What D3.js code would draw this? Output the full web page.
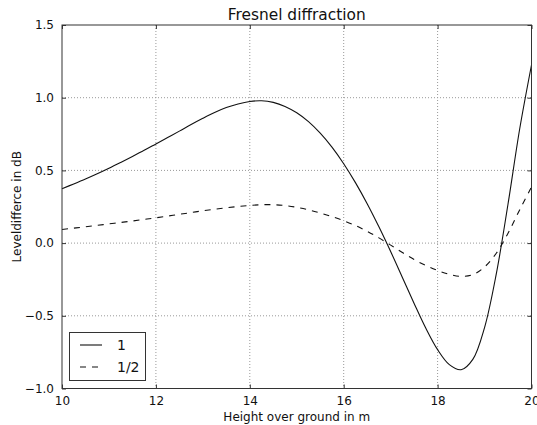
<!DOCTYPE html>
<html>
<head>
<meta charset="utf-8">
<script src="https://d3js.org/d3.v7.min.js"></script>
<style>
  html, body { margin: 0; padding: 0; background: #fff; }
  svg { display: block; font-family: "DejaVu Sans", sans-serif; }
</style>
</head>
<body>
<svg id="chart" width="537" height="425"></svg>
<script>
// Height over ground (m)
const heights = [10, 10.25, 10.5, 10.75, 11, 11.25, 11.5, 11.75, 12, 12.25, 12.5, 12.75,
  13, 13.25, 13.5, 13.75, 14, 14.25, 14.5, 14.75, 15, 15.25, 15.5, 15.75, 16, 16.25,
  16.5, 16.75, 17, 17.25, 17.5, 17.75, 18, 18.25, 18.5, 18.75, 19, 19.25, 19.5, 19.75, 20];

// Level difference (dB), full strength
const levelFull = [0.374, 0.407, 0.441, 0.477, 0.515, 0.555, 0.596, 0.638, 0.682, 0.726, 0.770, 0.815,
  0.858, 0.898, 0.932, 0.957, 0.974, 0.979, 0.968, 0.940, 0.896, 0.835, 0.756, 0.660, 0.546, 0.416,
  0.271, 0.112, -0.058, -0.236, -0.415, -0.586, -0.733, -0.836, -0.871, -0.800, -0.581, -0.212, 0.269, 0.788, 1.225];

// Level difference (dB), half strength
const levelHalf = [0.094, 0.103, 0.112, 0.122, 0.132, 0.142, 0.152, 0.163, 0.174, 0.186, 0.198, 0.210,
  0.222, 0.233, 0.243, 0.252, 0.259, 0.264, 0.264, 0.258, 0.246, 0.229, 0.207, 0.182, 0.154, 0.121,
  0.081, 0.036, -0.014, -0.065, -0.113, -0.154, -0.188, -0.215, -0.229, -0.217, -0.164, -0.070, 0.068, 0.230, 0.386];

const seriesNames = ["1", "1/2"];
const xTicks = [10, 12, 14, 16, 18, 20];
const yTicks = [-1.0, -0.5, 0.0, 0.5, 1.0, 1.5];

const svg = d3.select("#chart");
const margin = { left: 62, right: 5.5, top: 25, bottom: 36.5 };
const W = 537, H = 425;
const x = d3.scaleLinear().domain([10, 20]).range([margin.left, W - margin.right]);
const y = d3.scaleLinear().domain([-1.0, 1.5]).range([H - margin.bottom, margin.top]);

const fmtY = v => d3.format(".1f")(v).replace("-", "\u2212");

// grid
const grid = svg.append("g");
grid.selectAll("line.gx").data(xTicks.slice(1, -1)).join("line")
  .attr("x1", d => x(d)).attr("x2", d => x(d))
  .attr("y1", y(1.5)).attr("y2", y(-1.0))
  .attr("stroke", "#999").attr("stroke-width", 1).attr("stroke-dasharray", "1,2");
grid.selectAll("line.gy").data(yTicks.slice(1, -1)).join("line")
  .attr("y1", d => y(d)).attr("y2", d => y(d))
  .attr("x1", x(10)).attr("x2", x(20))
  .attr("stroke", "#999").attr("stroke-width", 1).attr("stroke-dasharray", "1,2");

// curves
const line = (vals) => d3.line()
  .x((d, i) => x(heights[i]))
  .y(d => y(d))
  .curve(d3.curveCatmullRom.alpha(0.5))(vals);

svg.append("path").attr("d", line(levelFull))
  .attr("fill", "none").attr("stroke", "#111").attr("stroke-width", 1.1);
svg.append("path").attr("d", line(levelHalf))
  .attr("fill", "none").attr("stroke", "#111").attr("stroke-width", 1.1)
  .attr("stroke-dasharray", "6,6");

// axes with inward ticks on all four sides
const tickLen = 4;
const axB = svg.append("g").attr("transform", `translate(0,${y(-1.0)})`)
  .call(d3.axisBottom(x).tickValues(xTicks).tickFormat(d3.format("d")).tickSizeInner(-tickLen).tickSizeOuter(0).tickPadding(8));
const axT = svg.append("g").attr("transform", `translate(0,${y(1.5)})`)
  .call(d3.axisTop(x).tickValues(xTicks).tickFormat("").tickSizeInner(-tickLen).tickSizeOuter(0));
const axL = svg.append("g").attr("transform", `translate(${x(10)},0)`)
  .call(d3.axisLeft(y).tickValues(yTicks).tickFormat(fmtY).tickSizeInner(-tickLen).tickSizeOuter(0).tickPadding(8));
const axR = svg.append("g").attr("transform", `translate(${x(20)},0)`)
  .call(d3.axisRight(y).tickValues(yTicks).tickFormat("").tickSizeInner(-tickLen).tickSizeOuter(0));
[axB, axT, axL, axR].forEach(a => {
  a.select(".domain").remove();
  a.selectAll(".tick line").attr("stroke", "#333");
  a.selectAll("text").attr("font-family", "DejaVu Sans").attr("font-size", 12).attr("fill", "#111");
});

// frame
svg.append("rect")
  .attr("x", x(10)).attr("y", y(1.5))
  .attr("width", x(20) - x(10)).attr("height", y(-1.0) - y(1.5))
  .attr("fill", "none").attr("stroke", "#333").attr("stroke-width", 1);

// title and axis labels
svg.append("text").attr("x", (x(10) + x(20)) / 2).attr("y", 20)
  .attr("text-anchor", "middle").attr("font-size", 15.4).attr("fill", "#111")
  .text("Fresnel diffraction");
svg.append("text").attr("x", (x(10) + x(20)) / 2).attr("y", 421)
  .attr("text-anchor", "middle").attr("font-size", 12).attr("fill", "#111")
  .text("Height over ground in m");
svg.append("text").attr("transform", `translate(21,${(y(1.5) + y(-1.0)) / 2}) rotate(-90)`)
  .attr("text-anchor", "middle").attr("font-size", 12).attr("fill", "#111")
  .text("Leveldifferce in dB");

// legend
const lg = svg.append("g");
lg.append("rect").attr("x", 69.5).attr("y", 332.5).attr("width", 76).attr("height", 48)
  .attr("fill", "#fff").attr("stroke", "#333").attr("stroke-width", 1);
seriesNames.forEach((name, i) => {
  const ly = 345 + i * 22;
  lg.append("line").attr("x1", 80).attr("x2", 102).attr("y1", ly).attr("y2", ly)
    .attr("stroke", "#111").attr("stroke-width", 1.1)
    .attr("stroke-dasharray", i === 1 ? "6,6" : null);
  lg.append("text").attr("x", 117).attr("y", ly + 5).attr("font-size", 14).attr("fill", "#111")
    .text(name);
});
</script>
</body>
</html>
